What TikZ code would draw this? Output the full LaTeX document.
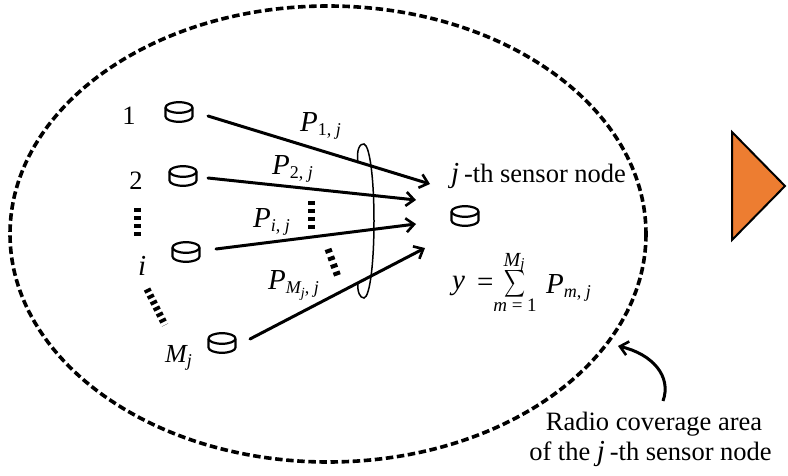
\documentclass[tikz,border=0pt]{standalone}
\usepackage{fontspec}
\setmainfont{Liberation Serif}
\usetikzlibrary{arrows.meta}
\newcommand{\fsz}[1]{\fontsize{#1}{#1}\selectfont}
\newcommand{\subsc}[1]{\raisebox{-4pt}{\fsz{18}\itshape #1}}
\tikzset{
  x=1pt,y=-1pt,
  sensor/.style={inner sep=0pt,outer sep=0pt,minimum width=28pt,minimum height=20pt},
  disk/.pic={
    \draw[line width=2.2pt,line join=round] (-13.5,-4.5) .. controls (-13.5,-7.43) and (-7.46,-9.8) .. (0,-9.8) .. controls (7.46,-9.8) and (13.5,-7.43) .. (13.5,-4.5) .. controls (13.5,-1.57) and (7.46,0.8) .. (0,0.8) .. controls (-7.46,0.8) and (-13.5,-1.57) .. cycle;
    \draw[line width=2.2pt,line join=round] (-13.5,-4.5) -- (-13.5,4.5) .. controls (-13.5,7.43) and (-7.46,9.8) .. (0,9.8) .. controls (7.46,9.8) and (13.5,7.43) .. (13.5,4.5) -- (13.5,-4.5);
  },
  label/.style={inner sep=0pt,font=\fsz{29}\itshape,anchor=base west},
  plain/.style={inner sep=0pt,font=\fsz{26.5},anchor=base,align=center},
  link/.style={line width=3pt,line cap=round,-{Straight Barb[length=8pt,width=14pt,line width=2.6pt]}},
  dots/.style={line width=7pt,dash pattern=on 4pt off 4pt},
}
\begin{document}
\begin{tikzpicture}
\useasboundingbox (0,0) rectangle (788,476);
% coverage area
\draw[line width=3.6pt,dash pattern=on 7.5pt off 3.6pt] (328,234) ellipse [x radius=318,y radius=228];
% sensors
\node[sensor] (s1) at (179,112) {};
\node[sensor] (s2) at (183,176) {};
\node[sensor] (si) at (186,252) {};
\node[sensor] (sm) at (222,343) {};
\node[sensor] (sj) at (465,216) {};
\foreach \n in {s1,s2,si,sm,sj} \pic at (\n) {disk};
% link ends
\coordinate (a1) at (208,116); \coordinate (b1) at (430,184);
\coordinate (a2) at (208,178); \coordinate (b2) at (416,200);
\coordinate (a3) at (216,249); \coordinate (b3) at (416,224);
\coordinate (a4) at (250,339); \coordinate (b4) at (425,248);
\draw[link] (a1) -- (b1);
\draw[link] (a2) -- (b2);
\draw[link] (a3) -- (b3);
\draw[link] (a4) -- (b4);
% grouping loop
\draw[line width=1.5pt] (358,163) .. controls (356,150) and (360,143) .. (364,144) .. controls (370,146) and (374,180) .. (374,221) .. controls (374,262) and (370,297) .. (364,298) .. controls (360,298) and (357,292) .. (358,282);
% ellipsis marks
\draw[dots] (137,208) -- (137,236);
\draw[dots] (311,201) -- (311,229);
\draw[dots] (328,249) -- (338,277);
\draw[dots,dash pattern=on 3.5pt off 3.2pt] (147,289) -- (165,325);
% labels
\node[plain] (n1) at (129,125) {1};
\node[plain] (n2) at (136,190) {2};
\node[label] (ni) at (138,275) {i};
\node[label,font=\fsz{26}\itshape] (nm) at (165,362) {M\subsc{j}};
\node[label] (p1) at (300,132) {P\subsc{\upshape 1, \itshape j}};
\node[label] (p2) at (272,175) {P\subsc{\upshape 2, \itshape j}};
\node[label] (p3) at (253,228) {P\subsc{i\upshape, \itshape j}};
\node[label] (p4) at (268,290) {P\subsc{M\raisebox{-3pt}{\fsz{14}j}\upshape, \itshape j}};
\node[plain,anchor=base west] (tj) at (451,183) {\fsz{29}\itshape j\,\fsz{26.5}\upshape-th sensor node};
\node[label] (y) at (452,289) {y};
\node[plain,anchor=base west,font=\fsz{29}] (eq) at (477,291) {=};
\node[inner sep=0pt] (sum) at (515,284) {\resizebox{21pt}{20pt}{$\displaystyle\sum$}};
\node[plain,font=\fsz{20}\itshape] (top) at (514,266) {M\raisebox{-2pt}{\fsz{15}j}};
\node[plain,font=\fsz{19}] (bot) at (515,311) {\itshape m\upshape\ = 1};
\node[label] (pm) at (546,294) {P\subsc{m\upshape, \itshape j}};
\node[plain] (c1) at (654,430) {Radio coverage area};
\node[plain] (c2) at (650.5,460) {of the \fsz{29}\itshape j\,\fsz{26.5}\upshape-th sensor node};
% pointer
\coordinate (pa) at (663,401); \coordinate (pb) at (618,346);
\draw[line width=3pt,-{Straight Barb[length=8pt,width=14pt,line width=2.6pt]}] (pa) .. controls (672,376) and (652,354) .. (pb);
% triangle
\draw[line width=2pt,fill={rgb,255:red,237;green,125;blue,49}] (732,132) -- (785,186) -- (732,240) -- cycle;
\end{tikzpicture}
\end{document}
